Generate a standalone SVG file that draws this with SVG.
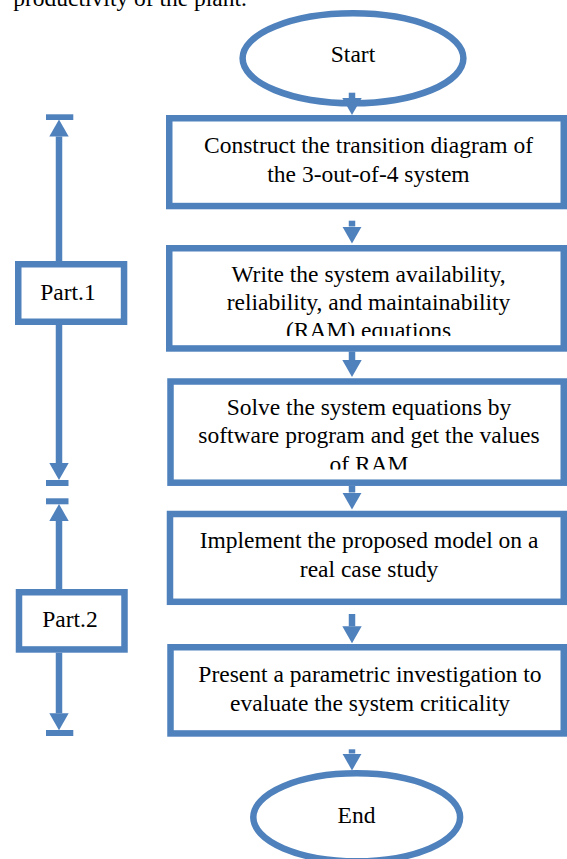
<svg xmlns="http://www.w3.org/2000/svg" width="567" height="859" viewBox="0 0 567 859">
<style>
  .shape { fill: #ffffff; stroke: #4F81BD; stroke-width: 6.5; }
  .conn { stroke: #4F81BD; stroke-width: 6.5; fill: none; }
  .bar { fill: #4F81BD; }
  text { font-family: "Liberation Serif", "Times New Roman", serif; font-size: 23.5px; fill: #000000; }
  .c { text-anchor: middle; }
</style>
<defs>
  <marker id="ah" viewBox="0 0 17 19.4" refX="0" refY="9.7" markerWidth="17" markerHeight="19.4" markerUnits="userSpaceOnUse" orient="auto">
    <path d="M0,0 L17,9.7 L0,19.4 Z" fill="#4F81BD"/>
  </marker>
  <clipPath id="clip2"><rect x="160" y="240" width="407" height="96"/></clipPath>
  <clipPath id="clip3"><rect x="160" y="375" width="407" height="94.5"/></clipPath>
</defs>

<text x="13.3" y="6">productivity of the plant.</text>

<g id="start">
  <ellipse class="shape" cx="353" cy="58.3" rx="110.4" ry="45"/>
  <text class="c" x="353" y="62.3">Start</text>
</g>

<g id="step1">
  <rect class="shape" x="169.25" y="118.25" width="394.5" height="87.8"/>
  <text class="c" x="368.5" y="152.7">Construct the transition diagram of</text>
  <text class="c" x="368.5" y="181.7">the 3-out-of-4 system</text>
</g>

<g id="step2">
  <rect class="shape" x="169.25" y="248.25" width="394.5" height="100.2"/>
  <g clip-path="url(#clip2)">
    <text class="c" x="368.5" y="281.7">Write the system availability,</text>
    <text class="c" x="368.5" y="310">reliability, and maintainability</text>
    <text class="c" x="368.5" y="338.3">(RAM) equations</text>
  </g>
</g>

<g id="step3">
  <rect class="shape" x="170.5" y="381.5" width="393.25" height="101.2"/>
  <g clip-path="url(#clip3)">
    <text class="c" x="369" y="415">Solve the system equations by</text>
    <text class="c" x="369" y="443.3">software program and get the values</text>
    <text class="c" x="369" y="471.6">of RAM</text>
  </g>
</g>

<g id="step4">
  <rect class="shape" x="170" y="514" width="393.75" height="87.8"/>
  <text class="c" x="369" y="548.3">Implement the proposed model on a</text>
  <text class="c" x="369" y="577.3">real case study</text>
</g>

<g id="step5">
  <rect class="shape" x="170.5" y="647.25" width="393.25" height="86.2"/>
  <text class="c" x="370" y="681.7">Present a parametric investigation to</text>
  <text class="c" x="370" y="710.7">evaluate the system criticality</text>
</g>

<g id="end">
  <ellipse class="shape" cx="356.7" cy="817.3" rx="103.4" ry="44"/>
  <text class="c" x="356.5" y="822.7">End</text>
</g>

<g id="part1">
  <rect class="shape" x="18.25" y="264.25" width="105.8" height="57.5"/>
  <text class="c" x="68" y="300">Part.1</text>
</g>

<g id="part2">
  <rect class="shape" x="19" y="592.25" width="105.5" height="57.2"/>
  <text class="c" x="70" y="626.7">Part.2</text>
</g>

<g id="connectors">
  <line class="conn" x1="352" y1="92.7" x2="352" y2="98" marker-end="url(#ah)"/>
  <line class="conn" x1="352" y1="220.7" x2="352" y2="226.5" marker-end="url(#ah)"/>
  <line class="conn" x1="352" y1="351.5" x2="352" y2="360" marker-end="url(#ah)"/>
  <line class="conn" x1="352" y1="486" x2="352" y2="492.5" marker-end="url(#ah)"/>
  <line class="conn" x1="352" y1="614" x2="352" y2="626.3" marker-end="url(#ah)"/>
  <line class="conn" x1="352" y1="749.3" x2="352" y2="753.5" marker-end="url(#ah)"/>

  <line class="conn" x1="59" y1="261" x2="59" y2="136.5" marker-end="url(#ah)"/>
  <rect class="bar" x="46" y="114.3" width="27.3" height="5.7"/>
  <line class="conn" x1="59" y1="325" x2="59" y2="463" marker-end="url(#ah)"/>
  <rect class="bar" x="46" y="480" width="22.5" height="6"/>
  <rect class="bar" x="46" y="498.3" width="22.5" height="6"/>
  <line class="conn" x1="59" y1="589" x2="59" y2="521" marker-end="url(#ah)"/>
  <line class="conn" x1="59" y1="652.7" x2="59" y2="713.3" marker-end="url(#ah)"/>
  <rect class="bar" x="46" y="730" width="27.3" height="6"/>
</g>
</svg>
